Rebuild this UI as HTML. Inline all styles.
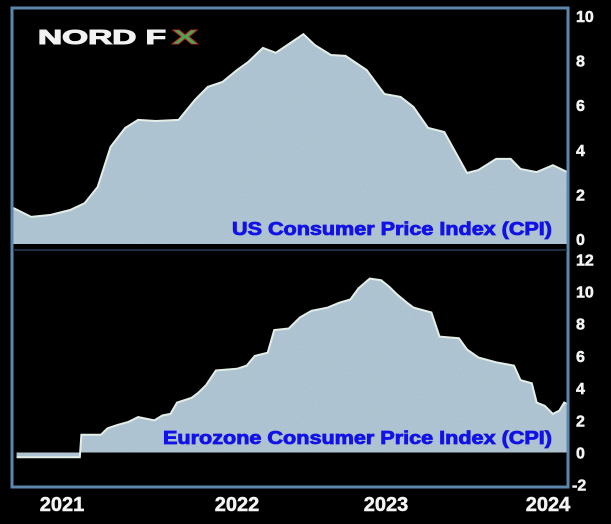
<!DOCTYPE html>
<html><head><meta charset="utf-8">
<style>
html,body{margin:0;padding:0;background:#000;}
svg{display:block;font-family:"Liberation Sans",Arial,sans-serif;}
</style></head>
<body>
<svg id="chart" width="611" height="524" viewBox="0 0 611 524" xmlns="http://www.w3.org/2000/svg">
<defs>
<filter id="noise" x="0" y="0" width="100%" height="100%">
<feTurbulence type="fractalNoise" baseFrequency="0.9" numOctaves="1" seed="3" result="n"/>
<feColorMatrix in="n" type="matrix" values="0 0 0 0 0.6  0 0 0 0 0.72  0 0 0 0 0.8  0 0 0 0.35 0" result="c"/>
<feComposite in="c" in2="SourceGraphic" operator="in" result="m"/>
<feMerge><feMergeNode in="SourceGraphic"/><feMergeNode in="m"/></feMerge>
</filter>
</defs>
<rect x="0" y="0" width="611" height="524" fill="#000"/>
<g id="plots"></g>
<rect x="12" y="8" width="556" height="479" fill="none" stroke="#5d86ad" stroke-width="3"/>
<line x1="13" y1="250" x2="567" y2="250" stroke="#1d2f45" stroke-width="2"/>
<g>
<text x="38" y="44" font-size="20" font-weight="bold" fill="#f2f2f2" stroke="#f2f2f2" stroke-width="1" textLength="128" lengthAdjust="spacingAndGlyphs">NORD F</text>
<text x="172" y="44" font-size="20" font-weight="bold" fill="#3fae5a" stroke="#c0392b" stroke-width="0.8" textLength="26" lengthAdjust="spacingAndGlyphs">X</text>
</g>
<text x="232" y="235" font-size="18" font-weight="bold" fill="#1212e6" stroke="#1212e6" stroke-width="0.8" textLength="320" lengthAdjust="spacingAndGlyphs">US Consumer Price Index (CPI)</text>
<text x="163" y="444" font-size="18" font-weight="bold" fill="#1212e6" stroke="#1212e6" stroke-width="0.8" textLength="389" lengthAdjust="spacingAndGlyphs">Eurozone Consumer Price Index (CPI)</text>
<g id="axes"></g>
</svg>
<script>
// ---- data ----
const usTime = [2020.70,2020.81,2020.93,2021.05,2021.14,2021.22,2021.30,2021.39,2021.47,2021.58,2021.72,2021.82,2021.90,2021.99,2022.08,2022.15,2022.24,2022.32,2022.41,2022.49,2022.56,2022.66,2022.75,2022.88,2022.99,2023.09,2023.17,2023.26,2023.36,2023.50,2023.57,2023.68,2023.77,2023.83,2023.93,2024.03,2024.12];
const usValues = [1.39,0.99,1.08,1.30,1.61,2.33,4.13,4.98,5.34,5.29,5.34,6.23,6.82,7.04,7.58,7.94,8.57,8.35,8.79,9.19,8.70,8.25,8.21,7.58,6.50,6.37,5.92,4.98,4.80,2.96,3.09,3.59,3.59,3.14,3.00,3.31,3.00];
const ezTime = [2020.72,2021.11,2021.12,2021.24,2021.28,2021.34,2021.41,2021.47,2021.57,2021.62,2021.67,2021.71,2021.80,2021.84,2021.89,2021.95,2022.08,2022.14,2022.19,2022.27,2022.31,2022.40,2022.47,2022.54,2022.64,2022.71,2022.78,2022.83,2022.90,2022.97,2023.02,2023.07,2023.13,2023.17,2023.28,2023.33,2023.45,2023.50,2023.57,2023.68,2023.79,2023.83,2023.90,2023.93,2023.98,2024.03,2024.07,2024.10,2024.12];
const ezValues = [-0.3,-0.3,1.1,1.1,1.5,1.7,1.9,2.2,2.0,2.3,2.4,3.1,3.4,3.7,4.2,5.1,5.2,5.4,6.0,6.2,7.6,7.7,8.4,8.8,9.0,9.3,9.5,10.2,10.8,10.7,10.3,9.8,9.3,9.0,8.7,7.2,7.1,6.4,5.9,5.6,5.4,4.5,4.3,3.1,2.9,2.4,2.6,3.1,3.0];
const usTicks = [0,2,4,6,8,10];
const ezTicks = [-2,0,2,4,6,8,10,12];
const yearLabels = ["2021","2022","2023","2024"];
const yearValues = [2021,2022,2023,2024];

// ---- scales ----
const xS = t => 62 + (t - 2021) * 162;
const yUS = v => 239 - v * 22.3;
const yEZ = v => 452.5 - v * 16.1;
const NS = "http://www.w3.org/2000/svg";
const plots = document.getElementById('plots');
const axes = document.getElementById('axes');

function area(times, vals, ys, baseY, name) {
  let d = "M" + xS(times[0]).toFixed(1) + "," + baseY;
  let line = "";
  times.forEach((t, i) => {
    const p = xS(t).toFixed(1) + "," + ys(vals[i]).toFixed(1);
    d += " L" + p;
    line += (i ? " L" : "M") + p;
  });
  d += " L" + xS(times[times.length - 1]).toFixed(1) + "," + baseY + " Z";
  const a = document.createElementNS(NS, 'path');
  a.setAttribute('d', d);
  a.setAttribute('fill', '#a7bdcc');
  a.setAttribute('filter', 'url(#noise)');
  
  
  plots.appendChild(a);
  const l = document.createElementNS(NS, 'path');
  l.setAttribute('d', line);
  l.setAttribute('fill', 'none');
  l.setAttribute('stroke', '#e4eee8');
  l.setAttribute('stroke-width', '2');
  
  
  plots.appendChild(l);
}
area(usTime, usValues, yUS, 244, 'us-cpi');
area(ezTime, ezValues, yEZ, yEZ(0), 'eurozone-cpi');

function label(x, y, txt, size, anchor, name) {
  const t = document.createElementNS(NS, 'text');
  t.setAttribute('x', x);
  t.setAttribute('y', y);
  t.setAttribute('font-size', size);
  t.setAttribute('font-weight', 'bold');
  t.setAttribute('fill', '#f4f4f4');
  t.setAttribute('stroke', '#f4f4f4');
  t.setAttribute('stroke-width', '0.5');
  t.setAttribute('text-anchor', anchor);
  t.textContent = txt;
  
  
  axes.appendChild(t);
}
usTicks.forEach(v => label(576, yUS(v) + 6, String(v), 16, 'start', 'us-y-tick-label'));
ezTicks.forEach(v => label(v < 0 ? 572 : 576, yEZ(v) + 6, String(v), 16, 'start', 'eurozone-y-tick-label'));
yearValues.forEach((yv, i) => label(i === 3 ? Math.min(xS(yv), 550) : xS(yv) + (i === 1 ? 13 : 0), 511, yearLabels[i], 20, 'middle', 'x-year-label'));
</script>
</body></html>
